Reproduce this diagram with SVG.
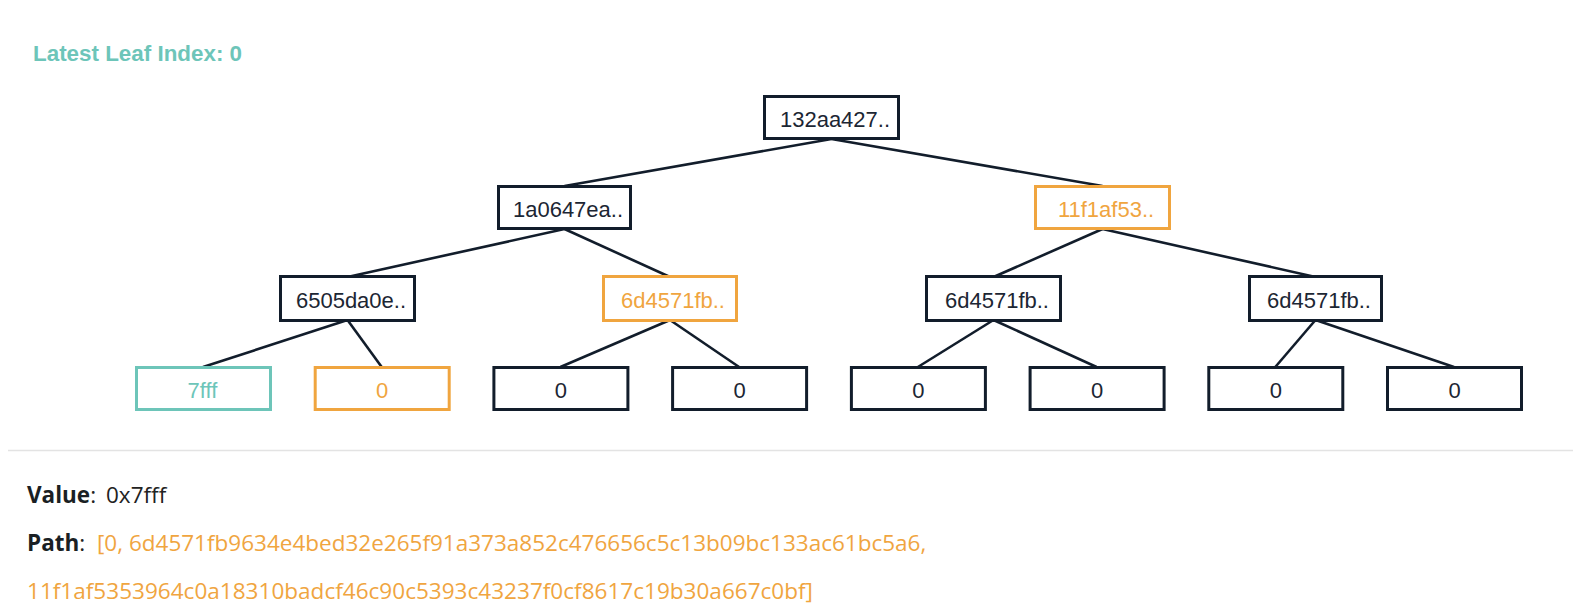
<svg xmlns="http://www.w3.org/2000/svg" width="1573" height="607" viewBox="0 0 1573 607">
<style>
.box{fill:#fff;stroke:#121d2b;stroke-width:3}
.box.o{stroke:#f0a53f}
.box.t{stroke:#6dc5b9}
.lbl{font-family:"Liberation Sans",Arial,sans-serif;font-size:22px;fill:#1c2633;text-anchor:middle}
.lbl.o{fill:#f0a53f}
.lbl.t{fill:#6dc5b9}
.edge{stroke:#121d2b;stroke-width:2.6;fill:none}
.info{font-family:"Open Sans","Noto Sans",sans-serif;font-size:22.5px;fill:#222}
.k{font-weight:bold;fill:#1a1f24}
.org{fill:#f0a53f}
</style>
<rect width="1573" height="607" fill="#fff"/>
<text x="33" y="61" font-family="Liberation Sans,Arial,sans-serif" font-size="22.4" font-weight="bold" fill="#6dc5b9">Latest Leaf Index: 0</text>
<g id="connectors">
<line class="edge" x1="831.5" y1="139" x2="564.5" y2="186"/>
<line class="edge" x1="831.5" y1="139" x2="1102.5" y2="186"/>
<line class="edge" x1="564.5" y1="229" x2="347.5" y2="277"/>
<line class="edge" x1="564.5" y1="229" x2="670" y2="277"/>
<line class="edge" x1="1102.5" y1="229" x2="993.5" y2="277"/>
<line class="edge" x1="1102.5" y1="229" x2="1315.5" y2="277"/>
<line class="edge" x1="347.5" y1="320" x2="203" y2="367"/>
<line class="edge" x1="347.5" y1="320" x2="381.7" y2="367"/>
<line class="edge" x1="670" y1="320" x2="560.4" y2="367"/>
<line class="edge" x1="670" y1="320" x2="739.1" y2="367"/>
<line class="edge" x1="993.5" y1="320" x2="917.9" y2="367"/>
<line class="edge" x1="993.5" y1="320" x2="1096.6" y2="367"/>
<line class="edge" x1="1315.5" y1="320" x2="1275.3" y2="367"/>
<line class="edge" x1="1315.5" y1="320" x2="1454" y2="367"/>
</g>
<g id="n0"><rect class="box" x="764.5" y="96.5" width="134" height="42"/><text class="lbl" x="835" y="127">132aa427..</text></g>
<g id="n1"><rect class="box" x="498.5" y="186.5" width="132" height="42"/><text class="lbl" x="568" y="217">1a0647ea..</text></g>
<g id="n2"><rect class="box o" x="1035.5" y="186.5" width="134" height="42"/><text class="lbl o" x="1106" y="217">11f1af53..</text></g>
<g id="n3"><rect class="box" x="280.5" y="276.5" width="134" height="44"/><text class="lbl" x="351" y="307.5">6505da0e..</text></g>
<g id="n4"><rect class="box o" x="603.5" y="276.5" width="133" height="44"/><text class="lbl o" x="673" y="307.5">6d4571fb..</text></g>
<g id="n5"><rect class="box" x="926.5" y="276.5" width="134" height="44"/><text class="lbl" x="997" y="307.5">6d4571fb..</text></g>
<g id="n6"><rect class="box" x="1249.5" y="276.5" width="132" height="44"/><text class="lbl" x="1319" y="307.5">6d4571fb..</text></g>
<g id="n7"><rect class="box t" x="136.5" y="367.5" width="134" height="42"/><text class="lbl t" x="202.5" y="398">7fff</text></g>
<g id="n8"><rect class="box o" x="315.2" y="367.5" width="134" height="42"/><text class="lbl o" x="382.2" y="398">0</text></g>
<g id="n9"><rect class="box" x="493.9" y="367.5" width="134" height="42"/><text class="lbl" x="560.9" y="398">0</text></g>
<g id="n10"><rect class="box" x="672.6" y="367.5" width="134" height="42"/><text class="lbl" x="739.6" y="398">0</text></g>
<g id="n11"><rect class="box" x="851.4" y="367.5" width="134" height="42"/><text class="lbl" x="918.4" y="398">0</text></g>
<g id="n12"><rect class="box" x="1030.1" y="367.5" width="134" height="42"/><text class="lbl" x="1097.1" y="398">0</text></g>
<g id="n13"><rect class="box" x="1208.8" y="367.5" width="134" height="42"/><text class="lbl" x="1275.8" y="398">0</text></g>
<g id="n14"><rect class="box" x="1387.5" y="367.5" width="134" height="42"/><text class="lbl" x="1454.5" y="398">0</text></g>
<line x1="8" y1="450.5" x2="1573" y2="450.5" stroke="#e3e3e3" stroke-width="1.5"/>
<text class="info" x="27" y="503"><tspan class="k">Value</tspan>:  <tspan x="106">0x7fff</tspan></text>
<text class="info" x="27" y="551"><tspan class="k">Path</tspan>: <tspan class="org" x="97">[0, 6d4571fb9634e4bed32e265f91a373a852c476656c5c13b09bc133ac61bc5a6,</tspan></text>
<text class="info org" x="27" y="599" textLength="786" lengthAdjust="spacingAndGlyphs">11f1af5353964c0a18310badcf46c90c5393c43237f0cf8617c19b30a667c0bf]</text>
</svg>
